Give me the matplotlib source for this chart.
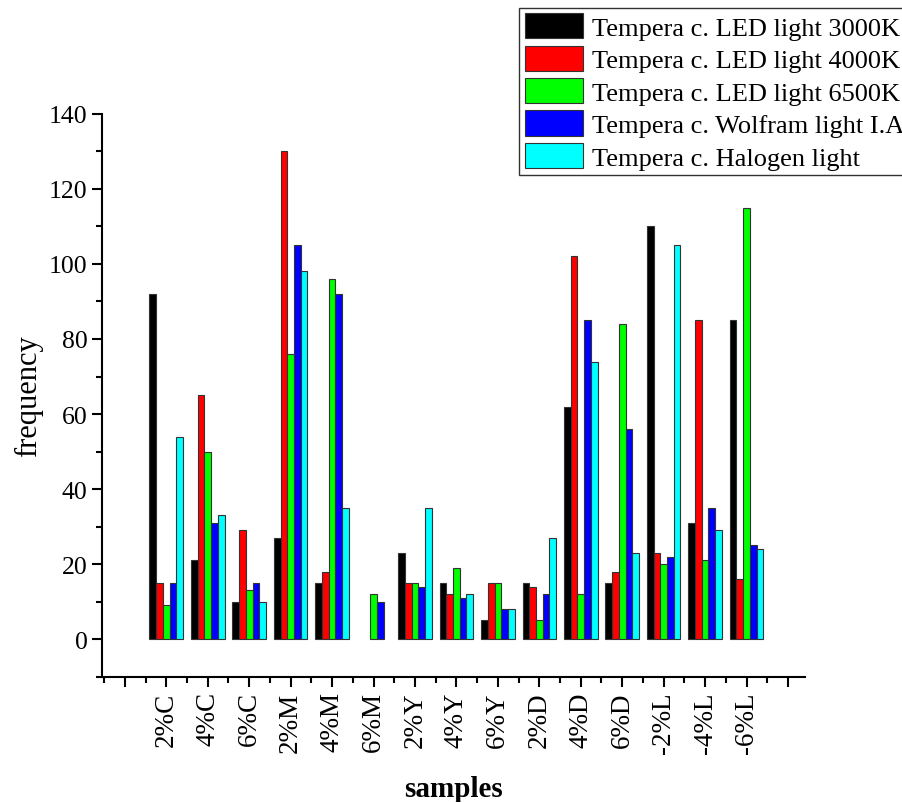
import matplotlib.pyplot as plt
from matplotlib.ticker import MultipleLocator
import numpy as np

plt.rcParams['font.family'] = ['Liberation Serif', 'DejaVu Serif']

samples = ["2%C", "4%C", "6%C", "2%M", "4%M", "6%M", "2%Y", "4%Y", "6%Y",
           "2%D", "4%D", "6%D", "-2%L", "-4%L", "-6%L"]

led_3000 = [92, 21, 10, 27, 15, 0, 23, 15, 5, 15, 62, 15, 110, 31, 85]
led_4000 = [15, 65, 29, 130, 18, 0, 15, 12, 15, 14, 102, 18, 23, 85, 16]
led_6500 = [9, 50, 13, 76, 96, 12, 15, 19, 15, 5, 12, 84, 20, 21, 115]
wolfram = [15, 31, 15, 105, 92, 10, 14, 11, 8, 12, 85, 56, 22, 35, 25]
halogen = [54, 33, 10, 98, 35, 0, 35, 12, 8, 27, 74, 23, 105, 29, 24]

series = [led_3000, led_4000, led_6500, wolfram, halogen]
labels = ["Tempera c. LED light 3000K", "Tempera c. LED light 4000K",
          "Tempera c. LED light 6500K", "Tempera c. Wolfram light I.A",
          "Tempera c. Halogen light"]
colors = ["#000000", "#ff0000", "#00ff00", "#0000ff", "#00ffff"]

fig = plt.figure(figsize=(9.03, 8.03), dpi=100)
ax = fig.add_axes([0.113, 0.156, 0.778, 0.701])

x = np.arange(1, len(samples) + 1)
w = 0.162
for i, (vals, lab, col) in enumerate(zip(series, labels, colors)):
    # empty cells (0) are simply not drawn
    v = np.array(vals, dtype=float)
    v[v == 0] = np.nan
    ax.bar(x + (i - 2) * w, v, w, color=col, edgecolor="#333333",
           linewidth=0.8, label=lab)

ax.set_xlim(-0.55, 16.4)
ax.set_ylim(-10, 140)

ax.set_xticks(np.arange(0, 17))
ax.set_xticklabels([""] + samples + [""], rotation=90)
ax.xaxis.set_minor_locator(MultipleLocator(0.5))

ax.set_yticks(np.arange(0, 141, 20))
ax.yaxis.set_minor_locator(MultipleLocator(10))

for s in ["top", "right"]:
    ax.spines[s].set_visible(False)
for s in ["left", "bottom"]:
    ax.spines[s].set_linewidth(1.5)

ax.tick_params(axis="both", which="major", direction="out", length=7,
               width=1.5)
ax.tick_params(axis="y", which="major", labelsize=18.5)
ax.tick_params(axis="x", which="major", labelsize=19.5)
ax.tick_params(axis="both", which="minor", direction="out", length=4,
               width=1.5)

ax.set_ylabel("frequency", fontsize=22, labelpad=4)
ax.set_xlabel("samples", fontsize=21, fontweight="bold", labelpad=16)

fig.legend(loc="upper left", bbox_to_anchor=(0.575, 0.989), fontsize=19,
           handlelength=2.2, handleheight=1.1, labelspacing=0.22,
           handletextpad=0.35, borderpad=0.2, borderaxespad=0,
           fancybox=False, edgecolor="#333333", framealpha=1)

fig.savefig("out.png", dpi=100)
